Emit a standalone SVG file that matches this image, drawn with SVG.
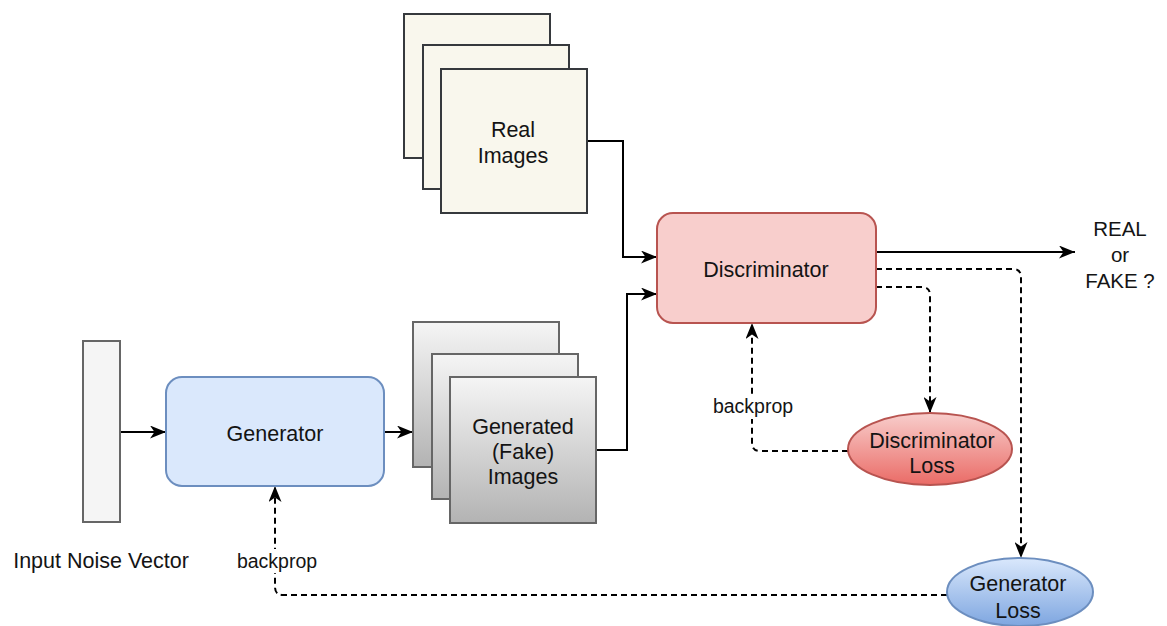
<svg xmlns="http://www.w3.org/2000/svg" width="1167" height="626" viewBox="0 0 1167 626">
  <style>
    text { font-family: "Liberation Sans", Arial, Helvetica, sans-serif; fill: #141414; text-anchor: middle; }
    .lbl { font-size: 21.5px; }
    .small { font-size: 19.5px; }
    .wire { fill: none; stroke: #000; stroke-width: 2; }
    .dash { fill: none; stroke: #000; stroke-width: 2; stroke-dasharray: 6 4; }
    .real { fill: #f9f7ed; stroke: #36393d; stroke-width: 2; }
    .fake { fill: url(#gGrey); stroke: #666666; stroke-width: 2; }
  </style>
  <defs>
    <marker id="arrow" viewBox="0 0 16 13" refX="16" refY="6.5" markerWidth="16" markerHeight="13" markerUnits="userSpaceOnUse" orient="auto">
      <path d="M0,0 L16,6.5 L0,13 L4.5,6.5 z" fill="#000"/>
    </marker>
    <linearGradient id="gGrey" x1="0" y1="0" x2="0" y2="1">
      <stop offset="0" stop-color="#f5f5f5"/>
      <stop offset="1" stop-color="#b3b3b3"/>
    </linearGradient>
    <linearGradient id="gRed" x1="0" y1="0" x2="0" y2="1">
      <stop offset="0" stop-color="#f8cecc"/>
      <stop offset="1" stop-color="#ea6b66"/>
    </linearGradient>
    <linearGradient id="gBlue" x1="0" y1="0" x2="0" y2="1">
      <stop offset="0" stop-color="#dae8fc"/>
      <stop offset="1" stop-color="#7ea6e0"/>
    </linearGradient>
  </defs>

  <rect width="1167" height="626" fill="#ffffff"/>

  <!-- connectors -->
  <g id="connectors">
    <path class="wire" d="M120,432 H166" marker-end="url(#arrow)"/>
    <path class="wire" d="M384,432 H413" marker-end="url(#arrow)"/>
    <path class="wire" d="M587,141 H623 V257 H657" marker-end="url(#arrow)"/>
    <path class="wire" d="M596,450 H627 V294 H657" marker-end="url(#arrow)"/>
    <path class="wire" d="M876,252 H1075" marker-end="url(#arrow)"/>
    <path class="dash" d="M876,269 H1013 Q1021,269 1021,277 V558" marker-end="url(#arrow)"/>
    <path class="dash" d="M876,287 H922 Q930,287 930,295 V413" marker-end="url(#arrow)"/>
    <path class="dash" d="M848,451 H760 Q752,451 752,443 V323" marker-end="url(#arrow)"/>
    <path class="dash" d="M947,595 H283 Q275,595 275,587 V486" marker-end="url(#arrow)"/>
    <rect x="711" y="395" width="84" height="24" fill="#ffffff"/>
    <text class="small" x="753" y="413">backprop</text>
    <rect x="235" y="549" width="84" height="24" fill="#ffffff"/>
    <text class="small" x="277" y="568">backprop</text>
  </g>

  <!-- input noise vector -->
  <g id="noise">
    <rect x="83" y="341" width="37" height="181" fill="#f5f5f5" stroke="#666666" stroke-width="2"/>
    <text class="lbl" x="101" y="568">Input Noise Vector</text>
  </g>

  <!-- generator -->
  <g id="generator">
    <rect x="166" y="377" width="218" height="109" rx="16" fill="#dae8fc" stroke="#6c8ebf" stroke-width="2"/>
    <text class="lbl" x="275" y="441">Generator</text>
  </g>

  <!-- real image stack -->
  <g id="real-images">
    <rect class="real" x="404" y="14" width="146" height="144"/>
    <rect class="real" x="423" y="45" width="146" height="144"/>
    <rect class="real" x="441" y="69" width="146" height="144"/>
    <text class="lbl" x="513" y="137">Real</text>
    <text class="lbl" x="513" y="163">Images</text>
  </g>

  <!-- generated image stack -->
  <g id="fake-images">
    <rect class="fake" x="413" y="322" width="146" height="145"/>
    <rect class="fake" x="432" y="354" width="146" height="145"/>
    <rect class="fake" x="450" y="377" width="146" height="146"/>
    <text class="lbl" x="523" y="434">Generated</text>
    <text class="lbl" x="523" y="459">(Fake)</text>
    <text class="lbl" x="523" y="484">Images</text>
  </g>

  <!-- discriminator -->
  <g id="discriminator">
    <rect x="657" y="213" width="219" height="110" rx="16" fill="#f8cecc" stroke="#b85450" stroke-width="2"/>
    <text class="lbl" x="766" y="277">Discriminator</text>
  </g>

  <!-- verdict -->
  <g id="verdict">
    <text font-size="20.5" x="1120" y="236">REAL</text>
    <text font-size="20.5" x="1120" y="262">or</text>
    <text font-size="20.5" x="1120" y="288">FAKE ?</text>
  </g>

  <!-- discriminator loss -->
  <g id="disc-loss">
    <ellipse cx="930" cy="449" rx="82" ry="36" fill="url(#gRed)" stroke="#b85450" stroke-width="2"/>
    <text class="lbl" x="932" y="448">Discriminator</text>
    <text class="lbl" x="932" y="473">Loss</text>
  </g>

  <!-- generator loss -->
  <g id="gen-loss">
    <ellipse cx="1020" cy="592" rx="73" ry="34" fill="url(#gBlue)" stroke="#6c8ebf" stroke-width="2"/>
    <text class="lbl" x="1018" y="591">Generator</text>
    <text class="lbl" x="1018" y="618">Loss</text>
  </g>
</svg>
